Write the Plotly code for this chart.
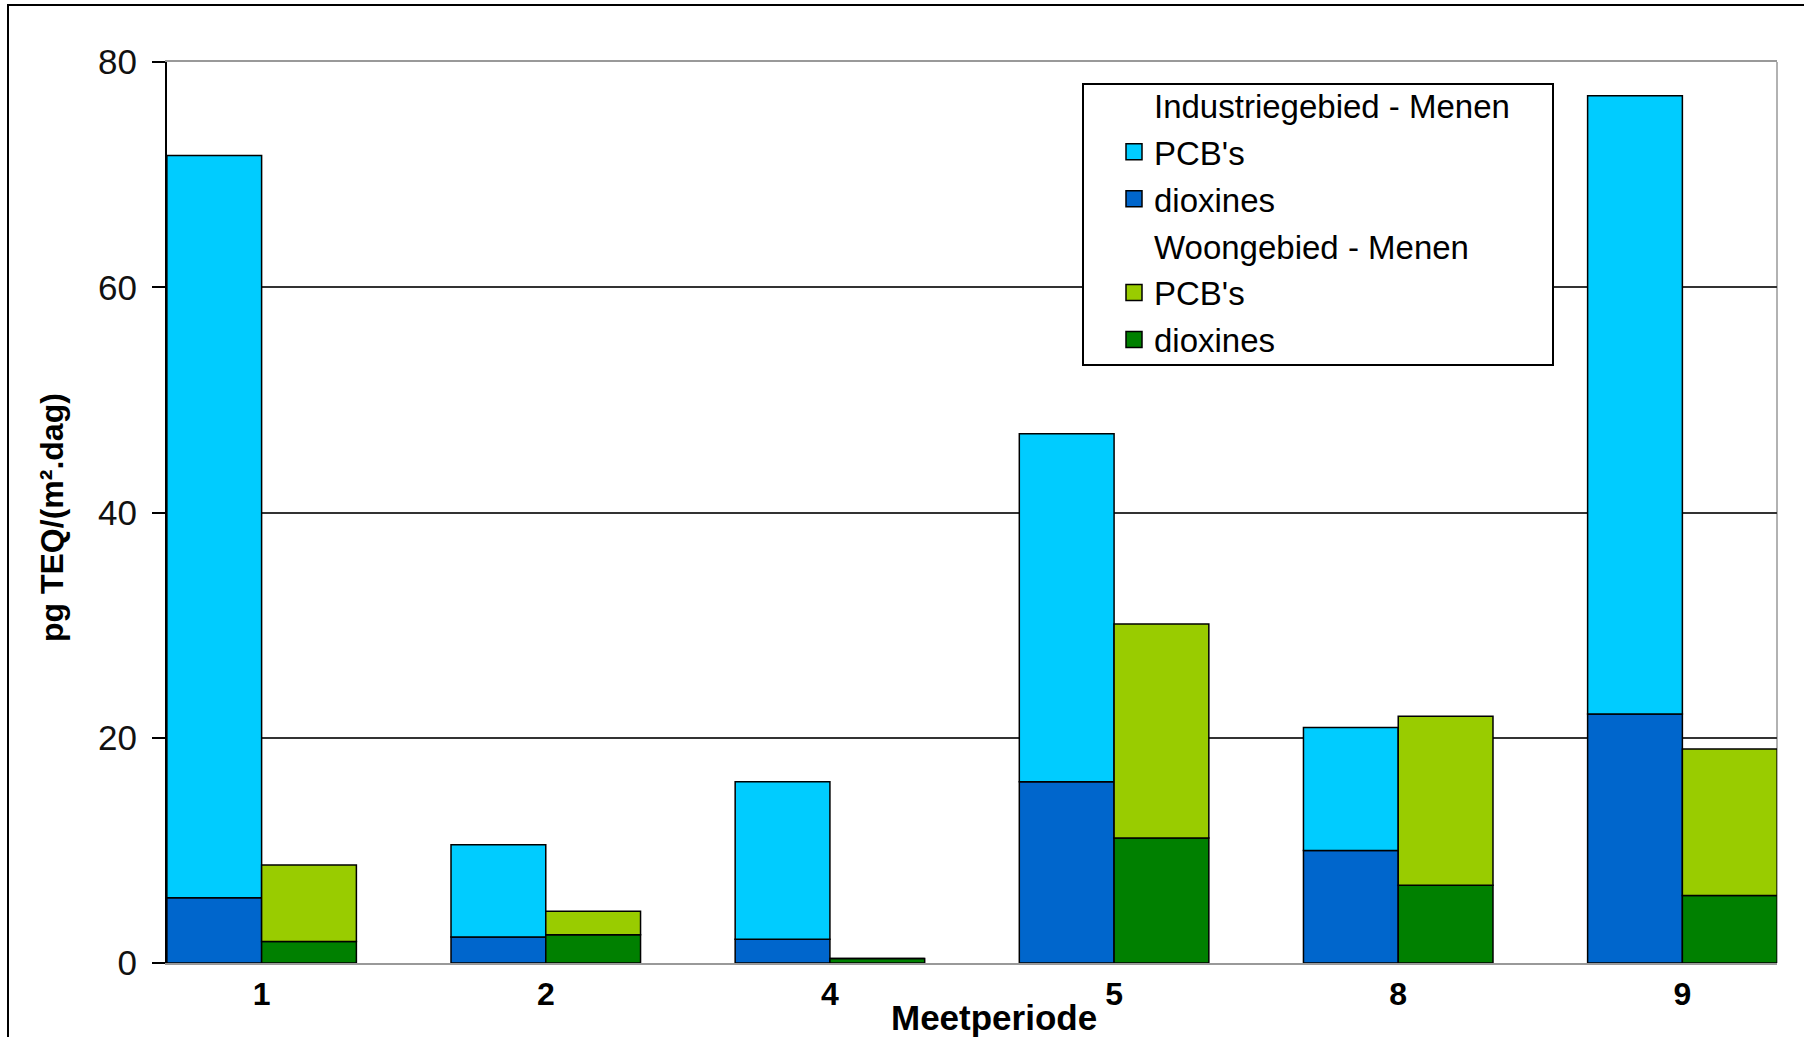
import plotly.graph_objects as go

# Measurement periods and deposition values, pg TEQ/(m².dag)
periods = ["1", "2", "4", "5", "8", "9"]
ind_diox = [5.8, 2.3, 2.1, 16.1, 10.0, 22.1]
ind_pcb = [65.9, 8.2, 14.0, 30.9, 10.9, 54.9]
woon_diox = [1.9, 2.5, 0.4, 11.1, 6.9, 6.0]
woon_pcb = [6.8, 2.1, 0.0, 19.0, 15.0, 13.0]

FONT = "Liberation Sans, Arial, sans-serif"
C_IND_PCB = "#00CCFF"
C_IND_DIOX = "#0066CC"
C_WOON_PCB = "#99CC00"
C_WOON_DIOX = "#008000"
OUTLINE = dict(color="black", width=1.5)

# plot area in pixels (figure is 1804 x 1037)
W, H = 1804, 1037
L, R, T, B = 167, 27, 62, 74
PW, PH = W - L - R, H - T - B


def px(x):
    return (x - L) / PW


def py(y):
    return (H - B - y) / PH


def legend_entry(name, group, color=None):
    """Legend-only entry; without a colour it acts as a section heading."""
    if color is None:
        marker = dict(size=1, color="rgba(0,0,0,0)")
    else:
        marker = dict(symbol="square", size=16, color=color,
                      line=dict(color="black", width=1.5))
    return go.Scatter(x=[None], y=[None], mode="markers", name=name,
                      legendgroup=group, marker=marker, hoverinfo="skip")


def bar(values, base, name, group, color):
    return go.Bar(x=periods, y=values, base=base, name=name,
                  offsetgroup=group, showlegend=False,
                  marker=dict(color=color, line=OUTLINE))


fig = go.Figure()
fig.add_trace(bar(ind_diox, None, "dioxines", "ind", C_IND_DIOX))
fig.add_trace(bar(ind_pcb, ind_diox, "PCB's", "ind", C_IND_PCB))
fig.add_trace(bar(woon_diox, None, "dioxines", "woon", C_WOON_DIOX))
fig.add_trace(bar(woon_pcb, woon_diox, "PCB's", "woon", C_WOON_PCB))

fig.add_trace(legend_entry("Industriegebied - Menen", "g1"))
fig.add_trace(legend_entry("PCB's", "g2", C_IND_PCB))
fig.add_trace(legend_entry("dioxines", "g3", C_IND_DIOX))
fig.add_trace(legend_entry("Woongebied - Menen", "g4"))
fig.add_trace(legend_entry("PCB's", "g5", C_WOON_PCB))
fig.add_trace(legend_entry("dioxines", "g6", C_WOON_DIOX))

fig.update_layout(
    width=W, height=H,
    margin=dict(l=L, r=R, t=T, b=B, pad=0),
    paper_bgcolor="white", plot_bgcolor="white",
    barmode="group", bargap=0.333, bargroupgap=0,
    font=dict(family=FONT, color="black"),
    showlegend=True,
    legend=dict(
        x=px(1114), y=py(77), xanchor="left", yanchor="top",
        bgcolor="rgba(0,0,0,0)", borderwidth=0,
        traceorder="grouped", tracegroupgap=1, itemsizing="trace",
        font=dict(family=FONT, size=33, color="black"),
    ),
    xaxis=dict(
        type="category", range=[-0.333, 5.333],
        showline=True, linecolor="#999999", linewidth=1.5, mirror=True,
        ticks="", showgrid=False, zeroline=False,
        tickfont=dict(family=FONT, size=32, color="black", weight="bold"),
        ticklabelstandoff=2,
    ),
    yaxis=dict(
        range=[0, 80], tickvals=[0, 20, 40, 60, 80],
        showline=True, linecolor="black", linewidth=2, mirror=False,
        ticks="outside", ticklen=13, tickwidth=2, tickcolor="black",
        showgrid=True, gridcolor="#333333", gridwidth=1.5, zeroline=False,
        tickfont=dict(family=FONT, size=35, color="#111111"),
        ticklabelstandoff=8,
    ),
    annotations=[
        dict(text="pg TEQ/(m².dag)", textangle=-90, showarrow=False,
             xref="paper", yref="paper", x=px(52), y=py(518),
             xanchor="center", yanchor="middle",
             font=dict(family=FONT, size=32, color="black", weight="bold")),
        dict(text="Meetperiode", showarrow=False,
             xref="paper", yref="paper", x=px(994), y=py(1017),
             xanchor="center", yanchor="middle",
             font=dict(family=FONT, size=35, color="black", weight="bold")),
    ],
    shapes=[
        # outer chart frame (left and top edges fall inside the page)
        dict(type="rect", xref="paper", yref="paper",
             x0=px(8), x1=px(1830), y0=py(1060), y1=py(5),
             line=dict(color="black", width=2), layer="below"),
        # right border of the plot area
        dict(type="line", xref="paper", yref="paper",
             x0=1, x1=1, y0=0, y1=1,
             line=dict(color="#999999", width=1.5), layer="below"),
        # legend box
        dict(type="rect", xref="paper", yref="paper",
             x0=px(1083), x1=px(1553), y0=py(365), y1=py(84),
             fillcolor="white", line=dict(color="black", width=2),
             layer="above"),
    ],
)

fig.write_html("out.html")
